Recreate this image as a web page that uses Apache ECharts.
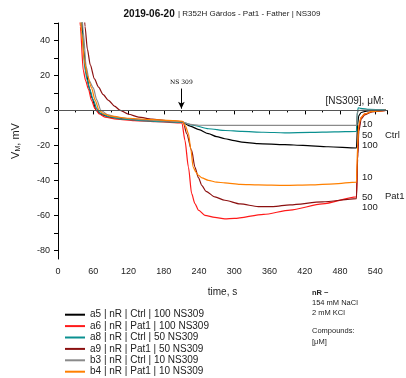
<!DOCTYPE html>
<html>
<head>
<meta charset="utf-8">
<script src="https://cdn.jsdelivr.net/npm/echarts@6/dist/echarts.min.js"></script>
<style>
  html, body { margin: 0; padding: 0; background: #fff; }
  #main { width: 406px; height: 378px; }
</style>
</head>
<body>
<div id="main"></div>
<script>
// traces: [time s, Vm mV]
const a5 = [[40,60],[44,34],[48,22],[53,13],[58,7],[65,0],[75,-2.5],[90,-4],[120,-5],[150,-5.6],[180,-6.2],[212,-6.8],[225,-9],[240,-11],[256,-13.3],[270,-15],[284,-16.2],[300,-17.3],[313,-18.1],[340,-19],[386,-19.6],[417,-20],[460,-20.8],[508,-21.5],[510,-8],[512,-3],[516,-1.2],[525,-0.4],[540,0],[558,0.3]];
const a6 = [[36,60],[38,48],[43,23],[47,17],[52,12],[57,5.7],[63,1],[70,-2],[80,-3.8],[100,-5],[130,-5.8],[170,-6.5],[211,-7.2],[216,-17],[222,-32.4],[227.5,-47.6],[233,-53.3],[239,-57],[250,-60],[267,-61.2],[284,-62],[300,-61.8],[350,-59.5],[395,-57],[450,-53.5],[508,-49.5],[510,-25],[512,-10],[516,-4],[522,-2],[535,-0.6],[558,0]];
const a8 = [[38,60],[41,45],[46,23],[50,17],[54,12],[60,6],[66,1],[72,-1.5],[85,-3.5],[110,-5],[150,-6],[180,-6.5],[212,-6.8],[230,-8.5],[256,-10.5],[285,-11.5],[313,-12],[350,-12.5],[386,-12.8],[430,-12.6],[470,-12.3],[508,-12],[509,-3],[511,1.5],[515,1.2],[530,0.6],[558,0.3]];
const a9 = [[44,60],[46,48],[50,35],[55,26],[62,18],[69,13.3],[77,9],[86,5.7],[96,2.5],[106,0],[120,-2.2],[137,-3.8],[160,-5],[185,-5.8],[213,-6.5],[219,-13.3],[227.5,-22.9],[233,-32.4],[239,-38.5],[245,-43],[252,-46.3],[267,-49.5],[284,-51.4],[310,-53.5],[341,-55],[366,-55],[395,-54],[450,-52.3],[508,-50.5],[510,-28],[512,-12],[516,-5],[522,-2.5],[535,-0.8],[558,0]];
const b3 = [[40,60],[43,45],[48,25],[53,17],[60,13],[66,6],[73,0],[85,-2.5],[100,-4],[130,-5],[170,-5.8],[210,-6.5],[225,-8],[240,-8.5],[300,-8.6],[400,-8.6],[508,-8.6],[509,-2],[511,0],[520,0.2],[558,0.2]];
const b4 = [[38,60],[40,45],[45,28],[50,20],[57,13],[63,6],[70,0],[78,-2],[90,-3.3],[120,-4.5],[160,-5.3],[212,-6.2],[217,-9],[222,-13.3],[226,-22],[230,-32.4],[235,-35.5],[239,-37.1],[245,-38.6],[256,-40],[270,-41],[284,-41.5],[310,-42.3],[341,-42.6],[386,-42.9],[430,-42.6],[470,-42],[508,-41],[510,-20],[512,-8],[516,-4],[522,-2],[535,-0.6],[558,0]];

const names = [
  'a5 | nR | Ctrl | 100 NS309',
  'a6 | nR | Pat1 | 100 NS309',
  'a8 | nR | Ctrl | 50 NS309',
  'a9 | nR | Pat1 | 50 NS309',
  'b3 | nR | Ctrl | 10 NS309',
  'b4 | nR | Pat1 | 10 NS309'
];
const traces = [a5, a6, a8, a9, b3, b4];
const colors = ['#000000', '#ff1a1a', '#0a9090', '#8b1010', '#8a8a8a', '#ff8000'];

const yLabels = [-80, -60, -40, -20, 0, 20, 40];
const yTicks = [-80, -70, -60, -50, -40, -30, -20, -10, 0, 10, 20, 30, 40, 50];
const addTime = 210;

const font = 'Liberation Sans, Arial, sans-serif';
const chart = echarts.init(document.getElementById('main'));

const series = traces.map((d, i) => ({
  name: names[i],
  type: 'line',
  data: d,
  showSymbol: false,
  smooth: 0.25,
  smoothMonotone: 'x',
  lineStyle: {color: colors[i], width: 1.2},
  itemStyle: {color: colors[i]},
  z: 3
}));

series.push({
  type: 'line',
  data: [],
  markLine: {
    silent: true,
    symbol: 'none',
    label: {show: false},
    lineStyle: {color: '#555', type: 'solid', width: 1},
    data: [{yAxis: 0}]
  }
});
series.push({
  type: 'line',
  data: [],
  markLine: {
    silent: true,
    symbol: ['none', 'arrow'],
    symbolSize: [5, 7],
    lineStyle: {color: '#000', type: 'solid', width: 1},
    label: {
      show: true, position: 'start', formatter: 'NS 309', distance: 3,
      fontFamily: 'DejaVu Serif, serif', fontSize: 6, color: '#000'
    },
    data: [[{coord: [addTime, 12.5]}, {coord: [addTime, 1]}]]
  }
});

const option = {
  animation: false,
  textStyle: {fontFamily: font},
  grid: {left: 58, right: 19, top: 23, bottom: 119},
  xAxis: {
    type: 'value',
    min: 0, max: 560, interval: 60,
    name: 'time, s',
    nameLocation: 'middle',
    nameGap: 28,
    nameTextStyle: {fontSize: 10, color: '#222'},
    axisLine: {lineStyle: {color: '#000'}},
    axisTick: {length: 4, lineStyle: {color: '#000'}},
    minorTick: {show: true, splitNumber: 2, length: 2, lineStyle: {color: '#000'}},
    axisLabel: {fontSize: 9, color: '#222', margin: 8},
    splitLine: {show: false}
  },
  yAxis: {
    type: 'value',
    min: -85, max: 50,
    name: '{v|V}{s|M}{v|, mV}',
    nameLocation: 'middle',
    nameGap: 36,
    nameTextStyle: {
      color: '#222',
      rich: {
        v: {fontSize: 11, color: '#222', fontFamily: font},
        s: {fontSize: 7, color: '#222', fontFamily: font, padding: [6, 0, 0, 0]}
      }
    },
    axisLine: {show: true, lineStyle: {color: '#000'}},
    axisTick: {length: 4, customValues: yTicks, lineStyle: {color: '#000'}},
    axisLabel: {fontSize: 9, color: '#222', margin: 8, customValues: yLabels},
    splitLine: {show: false}
  },
  legend: {
    data: names,
    orient: 'vertical',
    left: 65,
    top: 309,
    height: 69,
    padding: 0,
    icon: 'rect',
    itemWidth: 20,
    itemHeight: 2,
    itemGap: 0,
    textStyle: {fontSize: 10, color: '#222', lineHeight: 11.4},
    selectedMode: false
  },
  graphic: [
    {type: 'text', x: 222, y: 14, style: {
      text: '{b|2019-06-20} {n|| R352H Gárdos - Pat1 - Father | NS309}',
      align: 'center', verticalAlign: 'middle',
      rich: {
        b: {fontSize: 10, fontWeight: 'bold', fontFamily: font, fill: '#111'},
        n: {fontSize: 8, fontFamily: font, fill: '#222'}
      }
    }},
    {type: 'text', x: 384, y: 101, style: {text: '[NS309], μM:', align: 'right', verticalAlign: 'middle', fontSize: 10, fontFamily: font, fill: '#222'}},
    {type: 'text', x: 362, y: 124, style: {text: '10', verticalAlign: 'middle', fontSize: 9.5, fontFamily: font, fill: '#222'}},
    {type: 'text', x: 362, y: 135, style: {text: '50', verticalAlign: 'middle', fontSize: 9.5, fontFamily: font, fill: '#222'}},
    {type: 'text', x: 362, y: 145, style: {text: '100', verticalAlign: 'middle', fontSize: 9.5, fontFamily: font, fill: '#222'}},
    {type: 'text', x: 385, y: 135, style: {text: 'Ctrl', verticalAlign: 'middle', fontSize: 9.5, fontFamily: font, fill: '#222'}},
    {type: 'text', x: 362, y: 177, style: {text: '10', verticalAlign: 'middle', fontSize: 9.5, fontFamily: font, fill: '#222'}},
    {type: 'text', x: 362, y: 197, style: {text: '50', verticalAlign: 'middle', fontSize: 9.5, fontFamily: font, fill: '#222'}},
    {type: 'text', x: 362, y: 207, style: {text: '100', verticalAlign: 'middle', fontSize: 9.5, fontFamily: font, fill: '#222'}},
    {type: 'text', x: 385, y: 196, style: {text: 'Pat1', verticalAlign: 'middle', fontSize: 9.5, fontFamily: font, fill: '#222'}},
    {type: 'text', x: 312, y: 293, style: {text: 'nR ~', verticalAlign: 'middle', fontSize: 7.5, fontWeight: 'bold', fontFamily: font, fill: '#222'}},
    {type: 'text', x: 312, y: 303, style: {text: '154 mM NaCl', verticalAlign: 'middle', fontSize: 7.5, fontFamily: font, fill: '#222'}},
    {type: 'text', x: 312, y: 313, style: {text: '2 mM KCl', verticalAlign: 'middle', fontSize: 7.5, fontFamily: font, fill: '#222'}},
    {type: 'text', x: 312, y: 331, style: {text: 'Compounds:', verticalAlign: 'middle', fontSize: 7.5, fontFamily: font, fill: '#222'}},
    {type: 'text', x: 312, y: 342, style: {text: '[μM]', verticalAlign: 'middle', fontSize: 7.5, fontFamily: font, fill: '#222'}}
  ],
  series: series
};

chart.setOption(option);
</script>
</body>
</html>
